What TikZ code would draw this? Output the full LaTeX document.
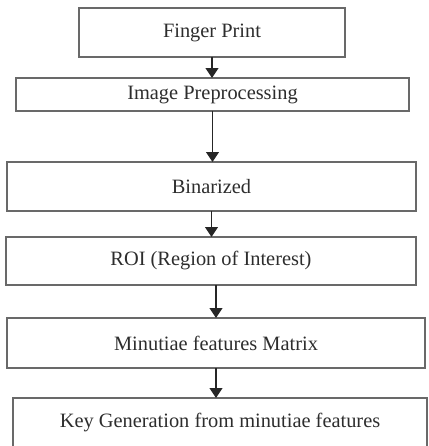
\documentclass[tikz,border=0pt]{standalone}
\usepackage{fontspec}
\setmainfont{Liberation Serif}
\usetikzlibrary{arrows.meta}

\definecolor{boxline}{RGB}{105,105,105}
\definecolor{boxtext}{RGB}{45,45,45}

\begin{document}
\begin{tikzpicture}[
  x=0.025cm, y=0.025cm,
  every node/.style={font=\fontsize{14.5}{17}\selectfont, text=boxtext},
  stage/.style={draw=boxline, line width=1.1pt, inner sep=0pt, outer sep=0pt, align=center},
  flow/.style={draw=black!85, line width=1.2pt, -{Triangle[length=7pt, width=9pt]}}
]
\useasboundingbox (0,0) rectangle (428,446);
% Stages
\node[stage, minimum width=6.65cm, minimum height=1.225cm] (fp) at (212, 413.5) {Finger Print};
\node[stage, minimum width=9.825cm, minimum height=0.825cm] (ip) at (212.5, 351.5) {Image Preprocessing};
\node[stage, minimum width=10.225cm, minimum height=1.225cm] (bin) at (211.5, 259.5) {Binarized};
\node[stage, minimum width=10.25cm, minimum height=1.2cm] (roi) at (211, 185) {ROI (Region of Interest)};
\node[stage, minimum width=10.45cm, minimum height=1.25cm] (mfm) at (216, 103) {Minutiae features Matrix};
\node[stage, minimum width=10.35cm, minimum height=1.25cm] (kg) at (220, 23) {Key Generation from minutiae features};
% Arrows
\draw[flow] (fp.south) -- (fp.south |- ip.north);
\draw[flow] (ip.south) -- (ip.south |- bin.north);
\draw[flow] (bin.south) -- (bin.south |- roi.north);
\draw[flow] (mfm.north |- roi.south) -- (mfm.north);
\draw[flow] (mfm.south) -- (mfm.south |- kg.north);
\end{tikzpicture}
\end{document}
